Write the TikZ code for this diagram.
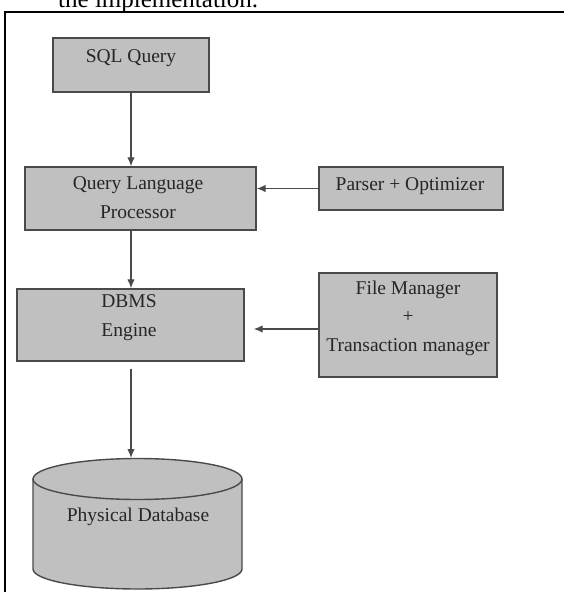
\documentclass[tikz,border=0pt]{standalone}
\usepackage{fontspec}
\setmainfont{Liberation Serif}
\usetikzlibrary{arrows.meta}
\definecolor{boxgray}{HTML}{C0C0C0}
\definecolor{edgegray}{HTML}{4A4A4A}
\definecolor{inkgray}{HTML}{262626}
\begin{document}
\begin{tikzpicture}[x=1pt,y=-1pt,
  box/.style={draw=edgegray, line width=1.4pt, fill=boxgray, inner sep=0pt},
  lbl/.style={font=\fontsize{19.5}{29}\selectfont, text=inkgray, align=center, inner sep=0pt},
  arr/.style={draw=edgegray, line width=1.3pt, -{Latex[length=9pt,width=7.5pt]}}]
\useasboundingbox (0,0) rectangle (563,592);

% running text above the frame and the frame itself
\node[font=\fontsize{25}{30}\selectfont, anchor=base west, inner sep=0pt] (caption) at (58,7) {the implementation.};
\draw[line width=2.3pt] (5,620) -- (5,12) -- (600,12);

% boxes
\node[box, minimum width=156pt, minimum height=54pt] (sql) at (131,65) {};
\node[lbl] (sqlt) at (131,58) {SQL Query};

\node[box, minimum width=231pt, minimum height=63pt] (qlp) at (140.5,198.5) {};
\node[lbl] (qlpt) at (138,197.5) {Query Language\\Processor};

\node[box, minimum width=184pt, minimum height=43pt] (parser) at (411,188.5) {};
\node[lbl] (parsert) at (410,186) {Parser + Optimizer};

\node[box, minimum width=227pt, minimum height=72pt] (dbms) at (130.5,325) {};
\node[lbl] (dbmst) at (129,318) {DBMS\\Engine};

\node[box, minimum width=178pt, minimum height=104pt] (fm) at (408,325) {};
\node[lbl, font=\fontsize{19.5}{28.5}\selectfont] (fmt) at (408,318) {File Manager\\+\\Transaction manager};

% database cylinder
\fill[boxgray] (33,479) -- (33,569) arc[start angle=180, end angle=360, x radius=104.5pt, y radius=20pt] -- (242,479) -- cycle;
\draw[edgegray, line width=1.4pt] (33,479) -- (33,569) arc[start angle=180, end angle=360, x radius=104.5pt, y radius=20pt] -- (242,479);
\draw[edgegray, line width=1.4pt, fill=boxgray] (137.5,479) ellipse[x radius=104.5pt, y radius=20.5pt];
\coordinate (dbtop) at (131,458);
\node[lbl] (dbt) at (138,517) {Physical Database};

% connectors
\draw[arr] (sql.south) -- (sql.south |- qlp.north);
\draw[arr] (qlp.south -| sql.south) -- (dbms.north -| sql.south);
\coordinate (dbout) at ([yshift=-7pt]dbms.south);
\draw[arr] (dbout -| sql.south) -- (dbtop);
\draw[arr] (parser.west) -- (qlp.east |- parser.west);
\coordinate (fmin) at ([yshift=-4pt]fm.west);
\path ([xshift=9pt]dbms.east) coordinate (dbmsr);
\draw[arr] (fmin) -- (dbmsr |- fmin);
\end{tikzpicture}
\end{document}
